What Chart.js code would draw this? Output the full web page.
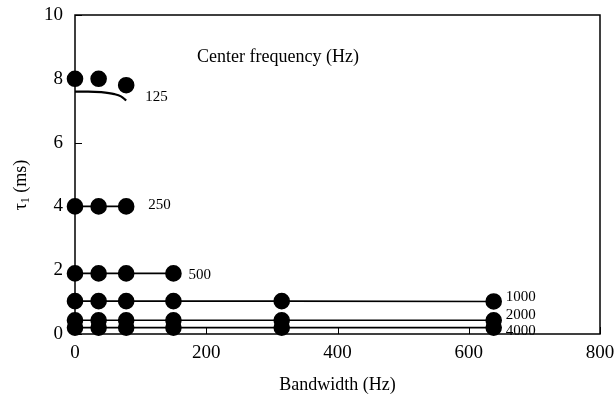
<!DOCTYPE html>
<html>
<head>
<meta charset="utf-8">
<script src="https://cdn.jsdelivr.net/npm/chart.js@4/dist/chart.umd.min.js"></script>
<style>
  body { margin: 0; background: #fff; }
  canvas { display: block; }
</style>
</head>
<body>
<canvas id="chart" width="616" height="403"></canvas>
<script>
// bandwidths (Hz) where tau1 was measured
const bandwidths = [0, 36, 78, 150, 315, 638];

// tau1 (ms) per center frequency
const centerFreqs = ['125', '250', '500', '1000', '2000', '4000'];
const tau125 = [8.0, 8.0, 7.8];
const tau250 = [4.0, 4.0, 4.0];
const tau500 = [1.9, 1.9, 1.9, 1.9];
const tau1000 = [1.03, 1.03, 1.03, 1.03, 1.03, 1.02];
const tau2000 = [0.43, 0.43, 0.43, 0.43, 0.43, 0.43];
const tau4000 = [0.2, 0.2, 0.2, 0.2, 0.2, 0.2];

// fitted curve for 125 Hz
const fit125X = [0, 20, 40, 60, 70, 78];
const fit125Y = [7.6, 7.6, 7.58, 7.52, 7.45, 7.32];

const xTicks = [0, 200, 400, 600, 800];
const yTicks = [0, 2, 4, 6, 8, 10];

const serif = '"Liberation Serif", "DejaVu Serif", serif';

function pts(ys, xs) {
    xs = xs || bandwidths;
    return ys.map((y, i) => ({ x: xs[i], y: y }));
}

const seriesVals = [tau125, tau250, tau500, tau1000, tau2000, tau4000];
// where each frequency label sits relative to its last dot (px)
const labelOffsets = [[19, 12], [22, -1], [15, 2], [12, -4], [12, -5], [12, 3]];

const datasets = seriesVals.map((vals, i) => ({
    label: centerFreqs[i],
    data: pts(vals),
    showLine: i > 0,
    borderColor: '#000',
    borderWidth: 1.6,
    backgroundColor: '#000',
    pointRadius: 7.5,
    pointHoverRadius: 7.5,
    clip: false
}));
datasets.push({
    label: 'fit125',
    data: pts(fit125Y, fit125X),
    showLine: true,
    borderColor: '#000',
    borderWidth: 2.2,
    pointRadius: 0,
    cubicInterpolationMode: 'monotone'
});

const decor = {
    id: 'decor',
    afterDraw(chart) {
        const ctx = chart.ctx;
        const a = chart.chartArea;
        const xs = chart.scales.x, ys = chart.scales.y;
        ctx.save();
        ctx.strokeStyle = '#000';
        ctx.lineWidth = 1.5;
        ctx.strokeRect(a.left, a.top, a.right - a.left, a.bottom - a.top);
        // inward ticks
        ctx.lineWidth = 1;
        ctx.beginPath();
        yTicks.forEach(v => {
            const p = Math.round(ys.getPixelForValue(v)) + 0.5;
            ctx.moveTo(a.left, p); ctx.lineTo(a.left + 7, p);
        });
        xTicks.forEach(v => {
            const p = Math.round(xs.getPixelForValue(v)) + 0.5;
            ctx.moveTo(p, a.bottom); ctx.lineTo(p, a.bottom - 7);
        });
        ctx.stroke();

        // frequency labels next to the last dot of each series
        ctx.fillStyle = '#000';
        ctx.font = '15px ' + serif;
        ctx.textBaseline = 'middle';
        ctx.textAlign = 'left';
        seriesVals.forEach((vals, i) => {
            const last = vals.length - 1;
            const px = xs.getPixelForValue(bandwidths[last]) + labelOffsets[i][0];
            const py = ys.getPixelForValue(vals[last]) + labelOffsets[i][1];
            ctx.fillText(centerFreqs[i], px, py);
        });

        ctx.font = '18px ' + serif;
        ctx.fillText('Center frequency (Hz)', 197, 57);

        // y title with subscript
        ctx.translate(21, 185);
        ctx.rotate(-Math.PI / 2);
        ctx.font = '18px ' + serif;
        const w1 = ctx.measureText('\u03c4').width;
        ctx.font = '12px ' + serif;
        const w2 = ctx.measureText('1').width;
        ctx.font = '18px ' + serif;
        const w3 = ctx.measureText(' (ms)').width;
        let x0 = -(w1 + w2 + w3) / 2;
        ctx.fillText('\u03c4', x0, 0);
        x0 += w1;
        ctx.font = '12px ' + serif;
        ctx.fillText('1', x0, 5);
        x0 += w2;
        ctx.font = '18px ' + serif;
        ctx.fillText(' (ms)', x0, 0);
        ctx.restore();
    }
};

new Chart(document.getElementById('chart'), {
    type: 'scatter',
    data: { datasets: datasets },
    options: {
        responsive: false,
        animation: false,
        events: [],
        layout: { padding: { top: 15, right: 16, left: 0, bottom: 0 } },
        plugins: {
            legend: { display: false },
            tooltip: { enabled: false }
        },
        scales: {
            x: {
                type: 'linear',
                min: 0, max: 800,
                afterFit: s => { s.height = 69; s.paddingLeft = 0; s.paddingRight = 0; },
                afterBuildTicks: s => { s.ticks = xTicks.map(v => ({ value: v })); },
                grid: { display: false, drawTicks: false },
                border: { display: false },
                ticks: { color: '#000', padding: 8, font: { family: serif, size: 19 }, maxRotation: 0 },
                title: { display: true, text: 'Bandwidth (Hz)', color: '#000', font: { family: serif, size: 18 }, padding: { top: 4, bottom: 7 } }
            },
            y: {
                type: 'linear',
                min: 0, max: 10,
                afterFit: s => { s.width = 75; s.paddingTop = 0; s.paddingBottom = 0; },
                afterBuildTicks: s => { s.ticks = yTicks.map(v => ({ value: v })); },
                grid: { display: false, drawTicks: false },
                border: { display: false },
                ticks: { color: '#000', padding: 12, font: { family: serif, size: 19 } }
            }
        }
    },
    plugins: [decor]
});
</script>
</body>
</html>
